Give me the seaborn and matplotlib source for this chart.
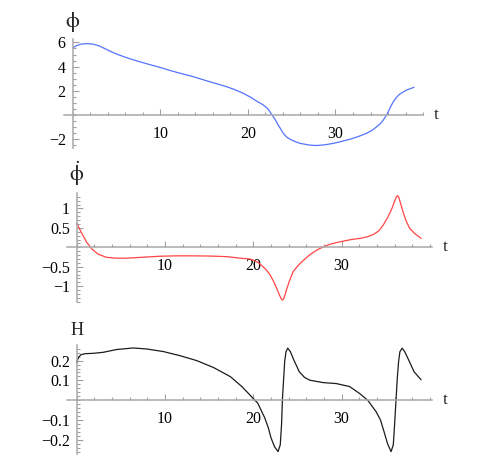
import matplotlib
matplotlib.use("Agg")
import matplotlib.pyplot as plt
import seaborn as sns
from matplotlib.ticker import FixedLocator, FixedFormatter, MultipleLocator

# phi(t)
t_phi = [0, 0.5, 1.0, 1.6, 2.35, 3.0, 3.7, 4.26, 5.2, 6.16, 7.1, 8.06, 9.0,
         9.97, 10.9, 11.87, 12.8, 13.77, 14.7, 15.67, 16.6, 17.58, 18.5,
         19.48, 20.24, 20.9, 21.76, 22.2, 22.5, 22.9, 23.2, 23.47, 24.04,
         24.4, 24.8, 25.4, 25.95, 27.0, 27.85, 28.8, 29.75, 30.7, 31.65,
         32.6, 33.56, 34.2, 34.7, 35.1, 35.46, 35.75, 36.03, 36.3, 36.6,
         37.0, 37.36, 38.13, 38.96]
phi = [5.55, 5.75, 5.87, 5.9, 5.86, 5.72, 5.48, 5.28, 4.99, 4.74, 4.52,
       4.32, 4.13, 3.94, 3.73, 3.53, 3.35, 3.17, 2.96, 2.75, 2.55, 2.34,
       2.1, 1.79, 1.5, 1.2, 0.83, 0.58, 0.28, -0.14, -0.48, -0.83, -1.51,
       -1.8, -2.0, -2.2, -2.34, -2.48, -2.52, -2.46, -2.34, -2.18, -2.0,
       -1.78, -1.51, -1.25, -0.97, -0.72, -0.41, -0.08, 0.28, 0.7, 1.1,
       1.5, 1.74, 2.07, 2.29]

# d(phi)/dt, middle panel
t_dphi = [0, 0.57, 1.13, 1.7, 2.45, 3.4, 4.53, 5.5, 6.4, 7.9, 9.4, 11.3,
          13.2, 15.1, 17.0, 18.5, 19.6, 20.0, 20.6, 21.1, 21.5, 21.9, 22.3,
          22.65, 23.0, 23.15, 23.3, 23.45, 23.55, 23.8, 24.1, 24.5, 25.1,
          25.7, 26.4, 27.2, 28.0, 28.7, 29.4, 30.2, 31.1, 32.1, 32.9, 33.6,
          34.2, 34.7, 35.2, 35.7, 36.05, 36.2, 36.35, 36.5, 36.65, 37.0,
          37.3, 37.7, 38.3, 39.0]
dphi = [0.62, 0.36, 0.13, -0.04, -0.18, -0.26, -0.28, -0.28, -0.27, -0.25,
        -0.23, -0.22, -0.22, -0.225, -0.24, -0.28, -0.30, -0.33, -0.40,
        -0.50, -0.59, -0.71, -0.88, -1.06, -1.25, -1.32, -1.36, -1.32,
        -1.25, -1.06, -0.86, -0.63, -0.46, -0.33, -0.19, -0.07, 0.02, 0.08,
        0.12, 0.16, 0.20, 0.23, 0.27, 0.33, 0.42, 0.57, 0.76, 1.0, 1.22,
        1.3, 1.33, 1.27, 1.15, 0.88, 0.68, 0.49, 0.35, 0.23]

# H(t), bottom panel
t_h = [0, 0.19, 0.45, 0.94, 1.9, 3.0, 4.5, 6.4, 7.9, 9.8, 11.7, 13.6, 15.5,
       17.4, 18.7, 19.6, 20.5, 21.3, 21.7, 22.0, 22.4, 22.8, 23.05, 23.2,
       23.3, 23.45, 23.55, 23.7, 23.9, 24.2, 24.5, 25.2, 25.8, 26.4, 27.9,
       29.4, 30.9, 32.0, 32.95, 33.9, 34.4, 34.8, 35.2, 35.6, 35.85, 36.0,
       36.15, 36.3, 36.45, 36.6, 36.85, 37.15, 37.5, 38.2, 39.0]
h = [0.19, 0.215, 0.229, 0.235, 0.237, 0.242, 0.256, 0.264, 0.259, 0.246,
     0.225, 0.20, 0.165, 0.119, 0.069, 0.027, -0.015, -0.09, -0.14, -0.19,
     -0.235, -0.26, -0.226, -0.12, 0.01, 0.12, 0.195, 0.245, 0.263, 0.245,
     0.212, 0.144, 0.115, 0.101, 0.089, 0.084, 0.069, 0.035, 0.0, -0.058,
     -0.10, -0.159, -0.22, -0.26, -0.226, -0.12, -0.007, 0.11, 0.195, 0.245,
     0.263, 0.245, 0.212, 0.144, 0.103]

x_major = [10, 20, 30]
x_labels = ["10", "20", "30"]
phi_ticks = [-2, 2, 4, 6]
phi_labels = ["\u22122", "2", "4", "6"]
dphi_ticks = [-1, -0.5, 0.5, 1]
dphi_labels = ["\u22121", "\u22120.5", "0.5", "1"]
h_ticks = [-0.2, -0.1, 0.1, 0.2]
h_labels = ["\u22120.2", "\u22120.1", "0.1", "0.2"]

sns.set_style("white")
plt.rcParams["font.family"] = ["Liberation Serif", "DejaVu Serif"]
plt.rcParams["mathtext.fontset"] = "stix"

W, H = 485, 466
fig = plt.figure(figsize=(W / 100, H / 100), dpi=100)
AXIS = "#a8a8a8"


def make_panel(rect, xlim, ylim, t, v, color, yticks, ylabels, yminor, name, name_size):
    ax = fig.add_axes(rect)
    sns.lineplot(x=t, y=v, ax=ax, color=color, linewidth=0.9)
    ax.set_xlim(*xlim)
    ax.set_ylim(*ylim)
    for s in ("top", "right"):
        ax.spines[s].set_visible(False)
    ax.spines["left"].set_position(("data", 0))
    ax.spines["bottom"].set_position(("data", 0))
    for s in ("left", "bottom"):
        ax.spines[s].set_color(AXIS)
        ax.spines[s].set_linewidth(1.1)
    ax.xaxis.set_major_locator(FixedLocator(x_major))
    ax.xaxis.set_major_formatter(FixedFormatter(x_labels))
    ax.xaxis.set_minor_locator(MultipleLocator(2))
    ax.yaxis.set_major_locator(FixedLocator(yticks))
    ax.yaxis.set_major_formatter(FixedFormatter(ylabels))
    ax.yaxis.set_minor_locator(MultipleLocator(yminor))
    # seaborn's white style switches the tick marks off
    ax.tick_params(which="both", bottom=True, left=True, direction="in",
                   color="#a0a0a0", width=0.8, labelsize=11.5, labelcolor="black")
    ax.tick_params(which="major", length=4)
    ax.tick_params(which="minor", length=2.2)
    ax.tick_params(axis="x", pad=8)
    ax.tick_params(axis="y", pad=5)
    ax.set_xlabel("")
    ax.set_ylabel("")
    ax.grid(False)
    ax.patch.set_alpha(0)
    ax.annotate("t", xy=(xlim[1], 0), xytext=(8, 0), textcoords="offset points",
                ha="left", va="center", fontsize=12.5)
    ax.annotate(name, xy=(0, ylim[1]), xytext=(0, 4), textcoords="offset points",
                ha="center", va="bottom", fontsize=name_size)
    return ax


def rect(px0, px1, py_top, py_bot):
    return [px0 / W, 1 - py_bot / H, (px1 - px0) / W, (py_bot - py_top) / H]


make_panel(rect(63.9, 423.1, 39.3, 148.3), (-1.0, 40.0), (-2.75, 6.26),
           t_phi, phi, "#5474ff", phi_ticks, phi_labels, 0.5,
           r"$\mathrm{\phi}$", 16)
make_panel(rect(67.0, 431.7, 193.3, 301.7), (-1.1, 40.2), (-1.40, 1.39),
           t_dphi, dphi, "#ff4545", dphi_ticks, dphi_labels, 0.1,
           r"$\dot{\mathrm{\phi}}$", 16)
make_panel(rect(67.0, 431.7, 345.0, 454.0), (-1.1, 40.2), (-0.272, 0.279),
           t_h, h, "#1c1c1c", h_ticks, h_labels, 0.02, "H", 13)

fig.savefig("out.png", dpi=100)
